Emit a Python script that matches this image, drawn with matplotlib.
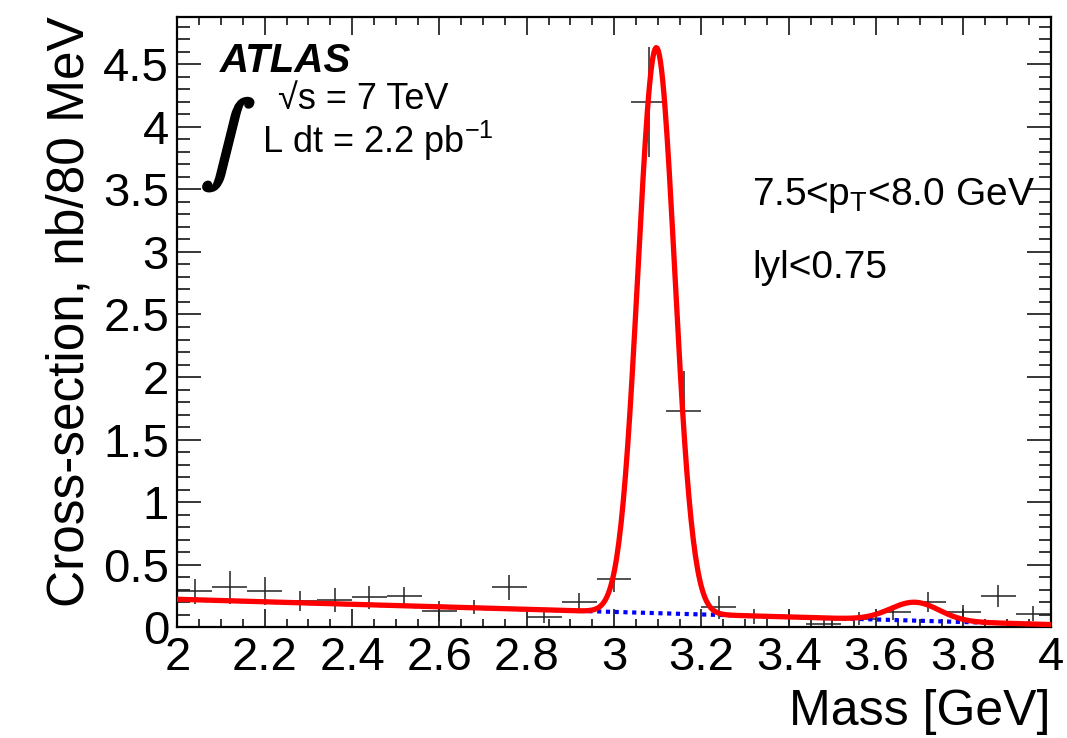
import numpy as np
import matplotlib
matplotlib.use('Agg')
import matplotlib.pyplot as plt
import matplotlib.patheffects as pe
from matplotlib.ticker import MultipleLocator

plt.rcParams['font.family'] = ['Liberation Sans', 'DejaVu Sans']
plt.rcParams['mathtext.fontset'] = 'custom'
plt.rcParams['mathtext.rm'] = 'Liberation Sans'
plt.rcParams['mathtext.it'] = 'Liberation Sans:italic'

# data: 80 MeV bins between 2 and 4 GeV
bin_centres = [2.04, 2.12, 2.20, 2.28, 2.36, 2.44, 2.52, 2.60, 2.68, 2.76, 2.84, 2.92, 3.00,
               3.08, 3.16, 3.24, 3.32, 3.40, 3.48, 3.56, 3.64, 3.72, 3.80, 3.88, 3.96]
xsec = [0.29, 0.32, 0.29, 0.21, 0.22, 0.24, 0.25, 0.13, 0.16, 0.32, 0.08, 0.20, 0.39,
        4.20, 1.73, 0.16, 0.09, 0.08, 0.03, 0.07, 0.12, 0.20, 0.12, 0.25, 0.11]
xsec_err = [0.10, 0.13, 0.115, 0.08, 0.095, 0.09, 0.07, 0.08, 0.055, 0.10, 0.045, 0.075, 0.11,
            0.44, 0.32, 0.09, 0.06, 0.06, 0.03, 0.055, 0.06, 0.08, 0.06, 0.09, 0.06]
half_bin = 0.04

# fit: linear background + J/psi and psi(2S) gaussians
bkg_at_2 = 0.224
bkg_slope = -0.101
jpsi_mass, jpsi_amp, jpsi_sigma = 3.097, 4.52, 0.042
psi2s_mass, psi2s_amp, psi2s_sigma = 3.689, 0.147, 0.056

m = np.linspace(2, 4, 800)
bkg = bkg_at_2 + bkg_slope * (m - 2)
fit = (bkg + jpsi_amp * np.exp(-0.5 * ((m - jpsi_mass) / jpsi_sigma) ** 2)
       + psi2s_amp * np.exp(-0.5 * ((m - psi2s_mass) / psi2s_sigma) ** 2))

fig = plt.figure(figsize=(10.67, 7.38), dpi=100)
ax = fig.add_axes([0.1662, 0.15, 0.8185, 0.8274])

ax.errorbar(bin_centres, xsec, xerr=half_bin, yerr=xsec_err, fmt='none',
            ecolor='#222222', elinewidth=1.1, capsize=0, zorder=2)
ax.plot(m, bkg, color='#0000ff', lw=3.0, dashes=(1.0, 1.1), zorder=3)
ax.plot(m, fit, color='#ff0000', lw=3.8, zorder=4)

ax.set_xlim(2, 4)
ax.set_ylim(0, 4.88)
ax.xaxis.set_major_locator(MultipleLocator(0.2))
ax.xaxis.set_minor_locator(MultipleLocator(0.05))
ax.yaxis.set_major_locator(MultipleLocator(0.5))
ax.yaxis.set_minor_locator(MultipleLocator(0.1))
ax.xaxis.set_major_formatter(plt.FuncFormatter(lambda v, p: f'{v:g}'))
ax.yaxis.set_major_formatter(plt.FuncFormatter(lambda v, p: f'{v:g}'))

ax.tick_params(axis='both', which='both', direction='in', top=True, right=True, width=1.1)
ax.tick_params(axis='x', which='major', length=13, labelsize=34, pad=6)
ax.tick_params(axis='x', which='minor', length=6)
ax.tick_params(axis='y', which='major', length=17, labelsize=34, pad=6)
ax.tick_params(axis='y', which='minor', length=9)
for s in ax.spines.values():
    s.set_linewidth(1.6)

ax.set_xlabel('Mass [GeV]', fontsize=36, loc='right', labelpad=7)
ax.set_ylabel('Cross-section, nb/80 MeV', fontsize=37, loc='top', labelpad=6)

ax.text(0.049, 0.909, 'ATLAS', transform=ax.transAxes, fontsize=29,
        fontweight='bold', fontstyle='italic', va='baseline')
ax.text(0.058, 0.79, r'$\int$', transform=ax.transAxes, fontsize=58,
        math_fontfamily='stix', ha='center', va='center',
        path_effects=[pe.withStroke(linewidth=2.5, foreground='black')])
ax.text(0.115, 0.849, '\u221as = 7 TeV', transform=ax.transAxes, fontsize=26, va='baseline')
ax.text(0.097, 0.776, r'L dt = 2.2 pb$^{\mathregular{-1}}$', transform=ax.transAxes,
        fontsize=26, va='baseline')
ax.text(0.658, 0.692, r'7.5<p$_{\mathregular{T}}$<8.0 GeV', transform=ax.transAxes,
        fontsize=28, va='baseline')
ax.text(0.658, 0.572, 'lyl<0.75', transform=ax.transAxes, fontsize=28, va='baseline')

fig.savefig('out.png', dpi=100)
